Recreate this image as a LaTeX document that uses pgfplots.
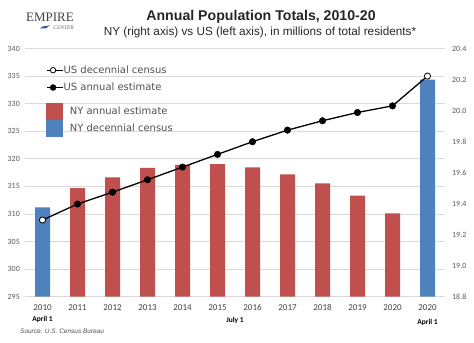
\documentclass[border=0pt]{standalone}
\usepackage{pgfplots}
\pgfplotsset{compat=1.18}
\usepackage{fontspec}
\setmainfont{Liberation Sans}
\newfontfamily\tickfont{Carlito}
\newfontfamily\legfont{DejaVu Sans}
\newfontfamily\logofont{Liberation Serif}
\definecolor{nyred}{HTML}{C0504D}
\definecolor{nyblue}{HTML}{4F81BD}
\definecolor{gridgray}{HTML}{D9D9D9}
\definecolor{ticktext}{HTML}{595959}
\definecolor{yeartext}{HTML}{404040}
\definecolor{legtext}{HTML}{505050}
\definecolor{logoblue}{HTML}{2F5597}

\tikzset{legtextstyle/.style={font=\legfont\fontsize{10}{11}\selectfont, text=legtext}}
\pgfplotsset{
  base/.style={
    at={(25bp,46.3bp)}, anchor=south west, scale only axis,
    width=420bp, height=248.2bp,
    xmin=-0.5, xmax=11.5,
    axis line style={draw=none},
    major tick length=0pt,
    /pgf/number format/assume math mode=true,
    ticklabel style={font=\tickfont\fontsize{8}{9}\selectfont, text=ticktext},
  },
}

\begin{document}
\begin{tikzpicture}
\path[use as bounding box] (0,0) rectangle (474bp,343bp);

% Axis 1: grid, left ticks, year labels
\begin{axis}[base, clip=false,
  ymin=295, ymax=340, ytick={295,300,305,310,315,320,325,330,335,340},
  ymajorgrids, grid style={draw=gridgray, line width=0.7pt},
  yticklabel style={anchor=east, inner sep=0pt, xshift=-5bp},
  xtick={0,1,2,3,4,5,6,7,8,9,10,11},
  xticklabels={2010,2011,2012,2013,2014,2015,2016,2017,2018,2019,2020,2020},
  xticklabel style={anchor=base, inner sep=0pt, yshift=-14bp, font=\tickfont\fontsize{9}{10}\selectfont, text=yeartext},
]
\node[anchor=base, inner sep=0pt, font=\tickfont\bfseries\fontsize{7.5}{9}\selectfont] at (axis cs:0,295) [yshift=-25bp] {April 1};
\node[anchor=base, inner sep=0pt, font=\tickfont\bfseries\fontsize{7.5}{9}\selectfont] at (axis cs:5.5,295) [yshift=-25.6bp] {July 1};
\node[anchor=base, inner sep=0pt, font=\tickfont\bfseries\fontsize{7.5}{9}\selectfont] at (axis cs:11,295) [yshift=-27.3bp] {April 1};
\end{axis}

% Axis 2: NY bars, right axis
\begin{axis}[base,
  ymin=18.8, ymax=20.4, ytick={18.8,19.0,19.2,19.4,19.6,19.8,20.0,20.2,20.4},
  yticklabel pos=right,
  yticklabel style={anchor=west, inner sep=0pt, xshift=7bp, /pgf/number format/.cd, fixed, fixed zerofill, precision=1},
  xtick=\empty,
  legend style={at={(axis description cs:0.0493,0.7792)}, anchor=north west, draw=none, fill=none, inner sep=0pt, row sep=0pt, column sep=7.6bp,
    nodes={inner sep=0pt, text height=7bp, text depth=2bp, anchor=base west, legtextstyle}},
  legend cell align=left,
]
\addplot[ybar, bar width=15bp, bar shift=0pt, fill=nyred, draw=none, forget plot] coordinates {
  (1,19.50) (2,19.57) (3,19.63) (4,19.65) (5,19.655) (6,19.634) (7,19.589) (8,19.531) (9,19.451) (10,19.337)};
\addplot[ybar, bar width=15bp, bar shift=0pt, fill=nyblue, draw=none, forget plot] coordinates {
  (0,19.376) (11,20.20)};
\addlegendimage{legend image code/.code={\fill[nyred] (0bp,-4.7bp) rectangle (16bp,11.3bp);}}
\addlegendentry{NY annual estimate}
\addlegendimage{legend image code/.code={\fill[nyblue] (0bp,-4.7bp) rectangle (16bp,11.3bp);}}
\addlegendentry{NY decennial census}
\end{axis}

% Axis 3: US line, left axis
\begin{axis}[base, hide axis, ymin=295, ymax=340,
  legend style={at={(axis description cs:0.05,0.9283)}, anchor=north west, draw=none, fill=none, inner sep=0pt, row sep=8.3bp, column sep=0.6bp,
    nodes={inner sep=0pt, text height=7bp, text depth=2bp, anchor=base west, legtextstyle}},
  legend cell align=left,
]
\addplot[black, line width=1.3pt, forget plot] coordinates {
  (0,308.9) (1,311.8) (2,313.95) (3,316.2) (4,318.5) (5,320.8) (6,323.1) (7,325.2) (8,326.9) (9,328.4) (10,329.6) (11,335.0)};
\addplot[only marks, mark=*, mark size=3.3bp, mark options={fill=black, draw=black}, forget plot] coordinates {
  (1,311.8) (2,313.95) (3,316.2) (4,318.5) (5,320.8) (6,323.1) (7,325.2) (8,326.9) (9,328.4) (10,329.6)};
\addplot[only marks, mark=*, mark size=3.1bp, mark options={fill=white, draw=black, line width=0.8pt}, forget plot] coordinates {
  (0,308.9) (11,335.0)};
\addlegendimage{legend image code/.code={\draw[black, line width=1.2pt] (0bp,3.3bp) -- (15.7bp,3.3bp); \draw[black, fill=white, line width=0.8pt] (6.3bp,3.3bp) circle (2.7bp);}}
\addlegendentry{US decennial census}
\addlegendimage{legend image code/.code={\draw[black, line width=1.2pt] (0bp,3.3bp) -- (15.7bp,3.3bp); \fill[black] (6.3bp,3.3bp) circle (3bp);}}
\addlegendentry{US annual estimate}
\end{axis}

% Titles
\node[anchor=base, inner sep=0pt, font=\bfseries\fontsize{14.2}{16}\selectfont, text=black!85] at (261bp,322.3bp) {Annual Population Totals, 2010-20};
\node[anchor=base, inner sep=0pt, font=\fontsize{11.8}{13}\selectfont, text=black!85] at (260bp,307bp) {NY (right axis) vs US (left axis), in millions of total residents*};

% Logo
\node[anchor=base west, inner sep=0pt, font=\logofont\fontsize{13}{14}\selectfont, text=black!75] at (26bp,321bp) {EMPIRE};
\node[anchor=base east, inner sep=0pt, font=\logofont\itshape\fontsize{5.5}{6}\selectfont, text=black!60] at (74bp,313.6bp) {CENTER};
\fill[logoblue] (40bp,314.6bp) -- (46bp,314.6bp) -- (50bp,318bp) -- (47bp,317bp) -- (43bp,316.6bp) -- cycle;

% Source
\node[anchor=base west, inner sep=0pt, font=\itshape\fontsize{6.5}{7}\selectfont, text=legtext] at (20bp,10bp) {Source: U.S. Census Bureau};
\end{tikzpicture}
\end{document}
